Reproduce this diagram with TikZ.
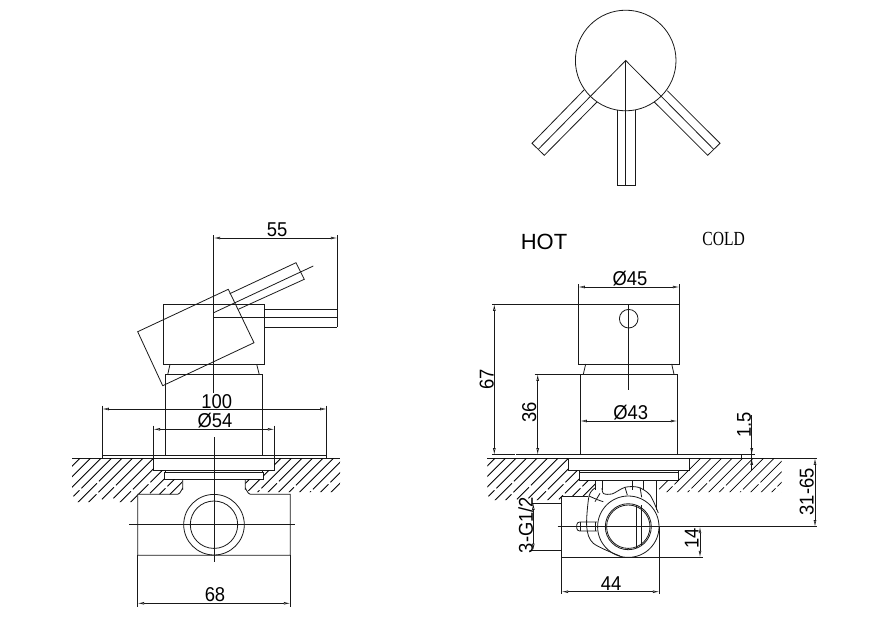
\documentclass[tikz,border=0pt]{standalone}
\usepackage{fontspec}
\setmainfont{Liberation Sans}
\newfontfamily\dimfont[FakeStretch=0.92]{Liberation Sans}
\newfontfamily\coldfont[FakeStretch=0.78]{Liberation Serif}
\usetikzlibrary{arrows.meta}
\tikzset{
  part/.style={line width=.8pt, black!90},
  hatchline/.style={line width=.8pt, black},
  dimline/.style={line width=.65pt, black!90, {Latex[open,length=6.5pt,width=2.8pt]}-{Latex[open,length=6.5pt,width=2.8pt]}},
  onetip/.style={line width=.65pt, black!90, -{Latex[open,length=6.5pt,width=2.8pt]}},
  extline/.style={line width=.65pt, black!90},
  dimlabel/.style={font=\dimfont\fontsize{20}{22}\selectfont, inner sep=0pt},
}
% each hatch line has one gap, and the gap moves along from line to line
\newcommand{\hatchlines}[1]{
  \foreach \x [count=\i] in {#1} {
    \pgfmathsetmacro{\hatchlen}{int(38+mod(\i*7,4)*3)}
    \pgfmathsetmacro{\hatchgap}{22+mod(\i*11,18)}
    \draw[hatchline] (\x,458.3) -- ++(-\hatchgap,\hatchgap) ++(-2,2) -- (\x-\hatchlen,458.3+\hatchlen);
  }
}
\begin{document}
\begin{tikzpicture}[x=1pt, y=-1pt]
\useasboundingbox (0,0) rectangle (891,629);

% top view
\draw[part] (625.7,60.5) circle [radius=50.3];
\draw[part] (584,90) -- (532,143.3) -- (544.3,155.3) -- (597,102);
\draw[part] (667.3,90.7) -- (720,143.3) -- (707.7,155.3) -- (654.3,102);
\draw[part] (617,110) -- (617,185.3) -- (635,185.3) -- (635,110);
\draw[part] (538.3,149.3) -- (625.7,60.5) -- (713.7,149.3);
\draw[part] (625.7,60.5) -- (625.7,185.3);

% left view, handle
\draw[part] (163.3,304.3) rectangle ++(101,60);
\draw[part] (228.3,289.3) -- (254,342.7) -- (162.7,385.7) -- (137.7,331.7) -- cycle;
\draw[part] (229.7,293.7) -- (296,262.7) -- (304.3,279.3) -- (238.3,309.3);
\draw[part] (213.7,312.7) -- (313.3,266);
\draw[part] (264.3,309) -- (337.3,309);
\draw[part] (264.3,327.3) -- (337.3,327.3);
\draw[part] (213.7,317.7) -- (337.3,317.7);
\draw[part] (170,364.3) -- (167.7,374.7);
\draw[part] (256.7,364.3) -- (259.3,374.7);
\draw[part] (165.7,455) -- (165.7,374.7) -- (262.3,374.7) -- (262.3,455);
\draw[extline] (213.7,235) -- (213.7,393);
\draw[extline] (337.3,235) -- (337.3,327.3);
\draw[dimline] (213.7,238) -- (337.3,238);
\node[dimlabel] (dimhandle) at (277,230) {55};

% left view, plate and wall
\draw[part] (102.3,455) -- (326.7,455);
\draw[part] (72,458.3) -- (340,458.3);
\foreach \x in {102.3,326.7} \draw[extline] (\x,405.5) -- (\x,458.3);
\draw[dimline] (102.3,409) -- (326.7,409);
\node[dimlabel] (dimplate) at (216.7,401.7) {100};
\foreach \x in {153.5,274.3} \draw[extline] (\x,425.5) -- (\x,458.3);
\draw[dimline] (153.5,429.3) -- (274.3,429.3);
\node[dimlabel] (dimcover) at (215,420.7) {Ø54};
\draw[part] (153.7,458.3) rectangle ++(120.6,12);
\draw[part] (165,470.3) rectangle ++(97.7,2.4);
\draw[part] (164.3,472.7) rectangle ++(99,6.6);

% left view, hatch
\begin{scope}
\clip (72,458.3) -- (153.7,458.3) -- (153.7,470.3) -- (164.3,470.3) -- (164.3,479.3) -- (182.7,479.3) -- (182.7,489) -- (177.7,494.3) -- (137.7,494.3) -- (137.7,502) -- (72,502) -- cycle;
\hatchlines{80,90.5,...,232}
\end{scope}
\begin{scope}
\clip (274.3,458.3) -- (340,458.3) -- (340,492) -- (250.3,492) -- (245.3,489) -- (245.3,479.3) -- (263.3,479.3) -- (263.3,470.3) -- (274.3,470.3) -- cycle;
\hatchlines{260,270.5,...,384}
\end{scope}

% left view, valve body
\draw[part] (182.7,479.3) -- (182.7,489) to[out=90,in=0] (177.7,494.3) -- (137.7,494.3) -- (137.7,555.3) -- (290.3,555.3) -- (290.3,494.3) -- (250.3,494.3) to[out=180,in=90] (245.3,489) -- (245.3,479.3);
\draw[part] (214,524.7) circle [radius=30.3];
\draw[part] (214,524.7) circle [radius=23.7];
\draw[extline] (129,524.7) -- (295,524.7);
\draw[extline] (214,437) -- (214,562);
\foreach \x in {137.7,290.3} \draw[extline] (\x,555.3) -- (\x,606.5);
\draw[dimline] (137.7,603.3) -- (290.3,603.3);
\node[dimlabel] (dimbody) at (215,595) {68};

% right view, labels
\node[font=\fontsize{22}{24}\selectfont, inner sep=0pt] (hotlabel) at (544,242.3) {HOT};
\node[font=\coldfont\fontsize{20}{22}\selectfont, inner sep=0pt] (coldlabel) at (723.7,239) {COLD};

% right view, handle
\draw[part] (578.3,304.3) rectangle ++(101,59.7);
\draw[part] (628.7,318.7) circle [radius=9.3];
\draw[extline] (628.7,304.3) -- (628.7,390);
\draw[part] (585.7,364) -- (583.3,374.3);
\draw[part] (671.7,364) -- (674,374.3);
\draw[part] (580.3,455) -- (580.3,374.3) -- (677.3,374.3) -- (677.3,455);
\foreach \x in {578.3,679.3} \draw[extline] (\x,284.3) -- (\x,304.3);
\draw[dimline] (578.3,287) -- (679.3,287);
\node[dimlabel] (dimknob) at (630,278.3) {Ø45};
\draw[dimline] (580.3,421) -- (677.3,421);
\node[dimlabel] (dimsleeve) at (630.7,412.7) {Ø43};
\draw[extline] (492,304.3) -- (578.3,304.3);
\draw[dimline] (494.3,304.3) -- (494.3,454.7);
\node[dimlabel, rotate=90] (dimheight) at (486.7,379) {67};
\draw[extline] (534.7,374.3) -- (580.3,374.3);
\draw[dimline] (537.7,374.3) -- (537.7,454.7);
\node[dimlabel, rotate=90] (dimsleeveh) at (529.3,412.7) {36};

% right view, plate and wall
\draw[extline] (492,454.7) -- (515,454.7);
\draw[part] (516.3,454.7) -- (741.7,454.7) -- (741.7,458.3);
\draw[extline] (741.7,454.7) -- (755,454.7);
\draw[part] (487.3,458.3) -- (816.7,458.3);
\draw[extline] (751.7,415) -- (751.7,470);
\draw[onetip] (751.7,440) -- (751.7,454.7);
\draw[onetip] (751.7,470) -- (751.7,458.3);
\node[dimlabel, rotate=90] (dimplateh) at (744,425) {1.5};
\draw[part] (568.3,458.3) rectangle ++(121,12.4);
\draw[part] (579.3,470.7) rectangle ++(99,9.3);
\draw[part] (579.3,472.7) -- (678.3,472.7);

% right view, hatch
\begin{scope}
\clip (487.3,458.3) -- (568.3,458.3) -- (568.3,470.7) -- (579.3,470.7) -- (579.3,480) -- (595,480) -- (595,488) -- (588.3,496.7) -- (561.7,496.7) -- (561.7,500) -- (487.3,500) -- cycle;
\hatchlines{495,505.5,...,647}
\end{scope}
\begin{scope}
\clip (689.3,458.3) -- (781.7,458.3) -- (781.7,492) -- (660,492) -- (656.7,480) -- (678.3,480) -- (678.3,470.7) -- (689.3,470.7) -- cycle;
\hatchlines{690,700.5,...,822}
\end{scope}

% right view, valve
\foreach \x in {595,602.3,632.7,643.3} \draw[part] (\x,480) -- (\x,490);
\draw[part] (656.7,480) -- (656.7,510);
\draw[part] (561.7,557.3) -- (561.7,496.7) -- (588.3,496.7);
\draw[part] (628.3,526.7) circle [radius=30.7];
\draw[part] (628.3,526.7) circle [radius=23];
\draw[part] (628.3,526.7) circle [radius=21.7];
\draw[part] plot[smooth] coordinates {(602,488) (603.5,493.5) (612,494) (625,487.3) (638.3,487.3) (650,495) (658.3,513)};
\draw[part] plot[smooth] coordinates {(595,488) (589,496) (586.7,526.7) (593.3,543.3) (620,556)};
\draw[part] plot[smooth] coordinates {(589,496) (597,499.5) (603.3,501.7)};
\draw[part] (600,493.3) -- (595,501.7);
\draw[part] (625,487.3) -- (627.3,495);
\draw[part] (640,487.3) -- (641.7,497.3);
\draw[part] (636.7,505) -- (636.7,548);
\draw[part] (641.7,505) -- (641.7,546);
\draw[part, rounded corners=3pt] (597,522) -- (576.7,522) -- (576.7,531) -- (597,531);
\draw[part] (595,521.7) -- (595,531.3);
\draw[part] (580.5,522) -- (580.5,531);

% right view, dimensions
\draw[extline] (557.7,526.7) -- (817,526.7);
\draw[dimline] (815,458.3) -- (815,526.7);
\node[dimlabel, rotate=90] (dimdepth) at (806.7,491.7) {31-65};
\draw[extline] (531.7,503.3) -- (561.7,503.3);
\draw[extline] (531.7,550) -- (561.7,550);
\draw[dimline] (533.3,503.3) -- (533.3,550);
\node[dimlabel, rotate=90] (dimthread) at (525.7,525) {3-G1/2};
\draw[extline] (561.7,557.3) -- (702.7,557.3);
\draw[dimline] (700,526.7) -- (700,557.3);
\node[dimlabel, rotate=90] (dimoffset) at (691.7,538) {14};
\draw[extline] (561.7,557.3) -- (561.7,594);
\draw[extline] (659.3,526.7) -- (659.3,594);
\draw[dimline] (561.7,591.7) -- (659.3,591.7);
\node[dimlabel] (dimwidth) at (611,583.3) {44};
\end{tikzpicture}
\end{document}
